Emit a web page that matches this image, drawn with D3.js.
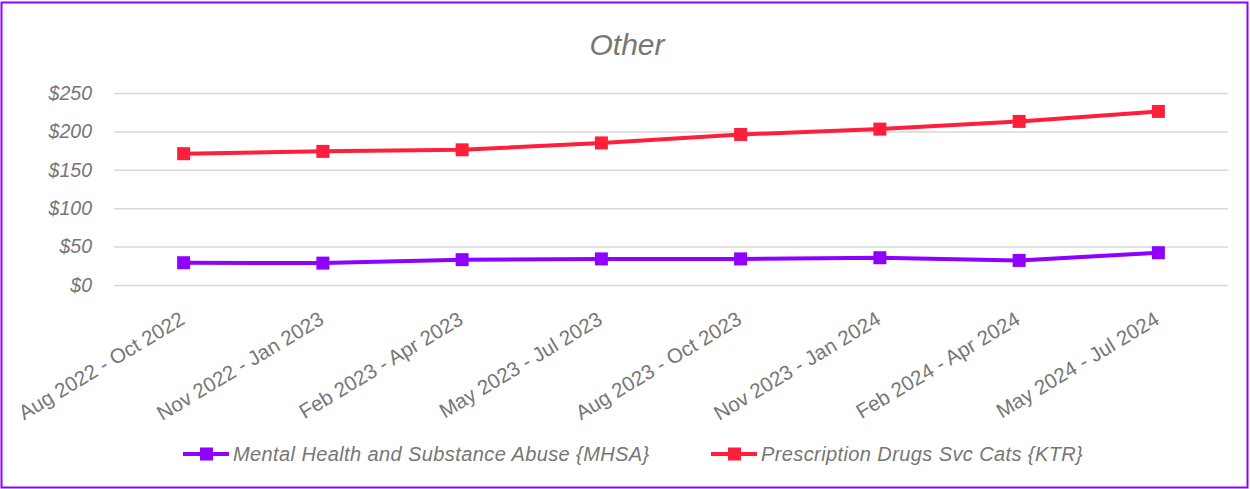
<!DOCTYPE html>
<html>
<head>
<meta charset="utf-8">
<script src="https://cdnjs.cloudflare.com/ajax/libs/d3/7.8.5/d3.min.js"></script>
<style>
  body { margin: 0; background: #fff; }
  text { font-family: "Liberation Sans", Arial, sans-serif; }
</style>
</head>
<body>

<div id="chart"></div>

<script>

// data
var periods = [
    "Aug 2022 - Oct 2022", "Nov 2022 - Jan 2023", "Feb 2023 - Apr 2023", "May 2023 - Jul 2023",
    "Aug 2023 - Oct 2023", "Nov 2023 - Jan 2024", "Feb 2024 - Apr 2024", "May 2024 - Jul 2024"
];
var mhsa = [29, 28.5, 33, 34, 34, 35.5, 32, 42];
var ktr = [171, 174, 176, 185, 196, 203, 213, 226];
var yTicks = [0, 50, 100, 150, 200, 250];
var seriesNames = ["Mental Health and Substance Abuse {MHSA}", "Prescription Drugs Svc Cats {KTR}"];
var seriesColors = ["#8f00ff", "#ff1f3d"];

var W = 1250, H = 489;
var margin = {top: 93, right: 22, bottom: 204, left: 114};
var w = W - margin.left - margin.right;
var h = H - margin.top - margin.bottom;

var svg = d3.select("#chart")
    .append("svg")
    .attr("width", W)
    .attr("height", H);

// outer border
svg.append("rect")
    .attr("x", 1.5).attr("y", 2.5)
    .attr("width", W - 4).attr("height", H - 4)
    .attr("fill", "none")
    .attr("stroke", "#8f00ff")
    .attr("stroke-width", 2);

svg.append("text")
    .attr("x", 627)
    .attr("y", 55)
    .attr("text-anchor", "middle")
    .attr("font-size", 30)
    .attr("font-style", "italic")
    .attr("fill", "#767676")
    .text("Other");

var g = svg.append("g")
    .attr("transform", "translate(" + margin.left + "," + margin.top + ")");

var x = d3.scalePoint().domain(periods).range([0, w]).padding(0.5);
var y = d3.scaleLinear().domain([0, 250]).range([h, 0]);

// y axis + grid
var yAxis = g.append("g")
    .call(d3.axisLeft(y).tickValues(yTicks).tickSize(-w).tickFormat(function(d) { return "$" + d; }));
yAxis.select(".domain").remove();
yAxis.selectAll(".tick line").attr("stroke", "#d9d9d9").attr("stroke-width", 1.5);
yAxis.selectAll(".tick text")
    .attr("x", -22)
    .attr("font-size", 19.5)
    .attr("font-style", "italic")
    .attr("fill", "#767676");

// x axis labels
var xAxis = g.append("g")
    .attr("transform", "translate(0," + h + ")")
    .call(d3.axisBottom(x).tickSize(0));
xAxis.select(".domain").remove();
xAxis.selectAll(".tick text")
    .attr("font-size", 20.5)
    .attr("fill", "#767676")
    .attr("text-anchor", "end")
    .attr("dy", 0)
    .attr("y", 0)
    .attr("transform", "translate(2,38) rotate(-31)");

var line = d3.line()
    .x(function(d, i) { return x(periods[i]); })
    .y(function(d) { return y(d); });

[mhsa, ktr].forEach(function(vals, k) {
    g.append("path")
        .datum(vals)
        .attr("fill", "none")
        .attr("stroke", seriesColors[k])
        .attr("stroke-width", 4)
        .attr("stroke-linejoin", "round")
        .attr("d", line);

    g.selectAll(".m" + k)
        .data(vals)
        .enter()
        .append("rect")
        .attr("x", function(d, i) { return x(periods[i]) - 6.5; })
        .attr("y", function(d) { return y(d) - 6.5; })
        .attr("width", 13)
        .attr("height", 13)
        .attr("fill", seriesColors[k]);
});

// legend
var legendX = [183, 711];
var legend = svg.selectAll(".legend")
    .data(seriesNames)
    .enter()
    .append("g")
    .attr("transform", function(d, i) { return "translate(" + legendX[i] + ",454)"; });

legend.append("line")
    .attr("x1", 0).attr("x2", 46)
    .attr("stroke", function(d, i) { return seriesColors[i]; })
    .attr("stroke-width", 4);
legend.append("rect")
    .attr("x", 17).attr("y", -6.5)
    .attr("width", 13).attr("height", 13)
    .attr("fill", function(d, i) { return seriesColors[i]; });
legend.append("text")
    .attr("x", 50)
    .attr("y", 7)
    .attr("font-size", 20)
    .attr("letter-spacing", 0.4)
    .attr("font-style", "italic")
    .attr("fill", "#767676")
    .text(function(d) { return d; });

</script>

</body>
</html>
